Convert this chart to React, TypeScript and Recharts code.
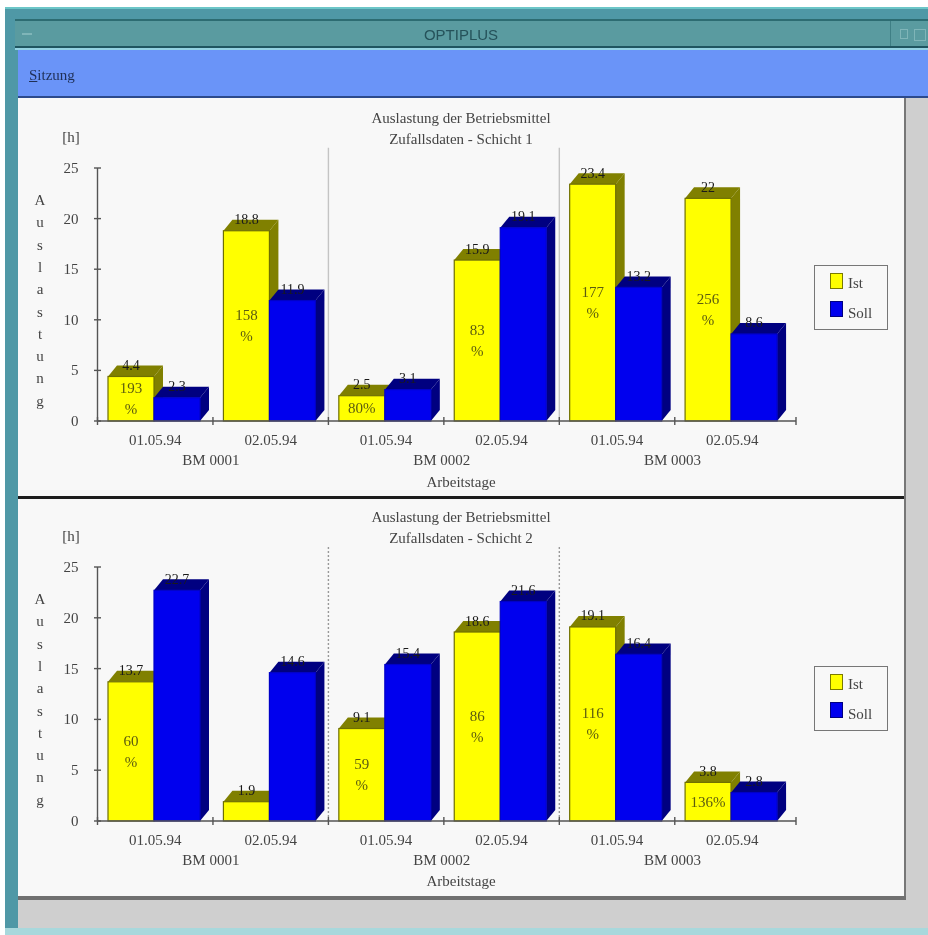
import { BarChart, Bar, XAxis, YAxis, Legend, LabelList, ReferenceLine } from "recharts";

const dates = ["01.05.94", "02.05.94", "01.05.94", "02.05.94", "01.05.94", "02.05.94"];
const machines = ["BM 0001", "BM 0001", "BM 0002", "BM 0002", "BM 0003", "BM 0003"];

const ist1 = [4.4, 18.8, 2.5, 15.9, 23.4, 22];
const soll1 = [2.3, 11.9, 3.1, 19.1, 13.2, 8.6];
const pct1 = ["193 %", "158 %", "80%", "83 %", "177 %", "256 %"];

const ist2 = [13.7, 1.9, 9.1, 18.6, 19.1, 3.8];
const soll2 = [22.7, 14.6, 15.4, 21.6, 16.4, 2.8];
const pct2 = ["60 %", "", "59 %", "86 %", "116 %", "136%"];

const yTicks = [0, 5, 10, 15, 20, 25];
const dayBounds = [0, 1, 2, 3, 4, 5, 6.05];
const machineBounds = [2, 4];
const yTitle = "Auslastung".split("");

const FONT = "'Liberation Serif', serif";
const INK = "#444";
const AXIS = "#555";
const DEPTH_X = 9;
const DEPTH_Y = 11;
const SHIFT = -1.5;

function Box3D(props: any) {
  const { x, y, width, height, fill, dark, edge } = props;
  const l = x + SHIFT;
  const r = l + width;
  const b = y + height;
  return (
    <g>
      <polygon points={`${l},${y} ${l + DEPTH_X},${y - DEPTH_Y} ${r + DEPTH_X},${y - DEPTH_Y} ${r},${y}`} fill={dark} />
      <polygon points={`${r},${y} ${r + DEPTH_X},${y - DEPTH_Y} ${r + DEPTH_X},${b - DEPTH_Y} ${r},${b}`} fill={dark} />
      <rect x={l} y={y} width={width} height={height} fill={fill} stroke={edge} strokeWidth={1.2} />
    </g>
  );
}

function ValueLabel(props: any) {
  const { x, y, width, value } = props;
  return (
    <text x={x + SHIFT + width / 2} y={y - 11} textAnchor="middle" dominantBaseline="central" fontFamily={FONT} fontSize={14} fill="#1a1a1a">
      {value}
    </text>
  );
}

function PctLabel(props: any) {
  const { x, y, width, height, value } = props;
  if (!value) return null;
  const lines = String(value).split(" ");
  const cx = x + SHIFT + width / 2;
  const cy = y + height / 2;
  return (
    <text textAnchor="middle" dominantBaseline="central" fontFamily={FONT} fontSize={15} fill="#5c5c10">
      {lines.map((t, i) => (
        <tspan key={i} x={cx} y={cy + (i - (lines.length - 1) / 2) * 21}>
          {t}
        </tspan>
      ))}
    </text>
  );
}

function CrossTickY(props: any) {
  const { x, y, payload } = props;
  return (
    <g>
      <line x1={x - 3.5} x2={x + 3.5} y1={y} y2={y} stroke={AXIS} strokeWidth={1.4} />
      <text x={x - 19} y={y} textAnchor="end" dominantBaseline="central" fontFamily={FONT} fontSize={15} fill={INK}>
        {payload.value}
      </text>
    </g>
  );
}

function CrossTickX(props: any) {
  const { x, y } = props;
  return <line x1={x} x2={x} y1={y - 4} y2={y + 4} stroke={AXIS} strokeWidth={1.4} />;
}

function DateTick(props: any) {
  const { x, y, payload } = props;
  return (
    <text x={x} y={y + 18} textAnchor="middle" dominantBaseline="central" fontFamily={FONT} fontSize={15} fill={INK}>
      {payload.value}
    </text>
  );
}

function MachineTick(props: any) {
  const { x, y, payload } = props;
  return (
    <text x={x - 2} y={y + 18} textAnchor="middle" dominantBaseline="central" fontFamily={FONT} fontSize={15} fill={INK}>
      {payload.value}
    </text>
  );
}

function LegendBox(props: any) {
  const rows = props.payload || [];
  return (
    <div style={{ width: 74, height: 65, boxSizing: "border-box", border: "1.5px solid #777", position: "relative", background: "#f8f8f8", fontFamily: FONT, fontSize: 15, color: INK }}>
      {rows.map((r: any, i: number) => (
        <div key={r.value}>
          <div style={{ position: "absolute", left: 15, top: 7 + i * 28, width: 13, height: 16, boxSizing: "border-box", background: r.color, border: `1.5px solid ${r.color === "#ffff00" ? "#7a7a00" : "#000080"}` }} />
          <div style={{ position: "absolute", left: 33, top: 8 + i * 30, lineHeight: "18px" }}>{r.value}</div>
        </div>
      ))}
    </div>
  );
}

function Label({ x, y, children }: any) {
  return (
    <text x={x} y={y} textAnchor="middle" dominantBaseline="central" fontFamily={FONT} fontSize={15} fill={INK}>
      {children}
    </text>
  );
}

function ShiftChart({ ist, soll, pct, shift, top, height, dotted, legendTop }: any) {
  const data = dates.map((d, i) => ({ slot: i, date: d, machine: machines[i], ist: ist[i], soll: soll[i], pct: pct[i] }));
  return (
    <div style={{ position: "absolute", left: 18, top, width: 886, height }}>
      <BarChart width={886} height={height} data={data} barSize={46} barGap={0} margin={{ top: 69, right: 34, bottom: 0, left: 0 }}>
        <YAxis width={79.5} domain={[0, 25]} ticks={yTicks} interval={0} tickSize={0} tickMargin={0} stroke={AXIS} strokeWidth={1.4} tick={<CrossTickY />} />
        <XAxis xAxisId="bounds" dataKey="slot" type="number" domain={[0, 6.05]} allowDataOverflow ticks={dayBounds} interval={0} height={1} tickSize={0} tickMargin={0} stroke={AXIS} strokeWidth={1.4} tick={<CrossTickX />} />
        <XAxis xAxisId="date" dataKey="date" height={20} padding={{ left: 0, right: 6 }} axisLine={false} tickLine={false} tickSize={0} tickMargin={0} interval={0} tick={<DateTick />} />
        <XAxis xAxisId="machine" dataKey="machine" allowDuplicatedCategory={false} height={54} padding={{ left: 0, right: 6 }} axisLine={false} tickLine={false} tickSize={0} tickMargin={0} interval={0} tick={<MachineTick />} />
        {machineBounds.map((b) => (
          <ReferenceLine
            key={b}
            xAxisId="bounds"
            segment={[{ x: b, y: 0 }, { x: b, y: 27 }]}
            ifOverflow="visible"
            stroke={dotted ? "#999" : "#c4c4c4"}
            strokeWidth={1.4}
            strokeDasharray={dotted ? "2 2" : undefined}
          />
        ))}
        <Bar xAxisId="date" dataKey="ist" name="Ist" fill="#ffff00" isAnimationActive={false} shape={<Box3D dark="#808000" edge="#6f6f00" />}>
          <LabelList dataKey="ist" content={<ValueLabel />} />
          <LabelList dataKey="pct" content={<PctLabel />} />
        </Bar>
        <Bar xAxisId="date" dataKey="soll" name="Soll" fill="#0000ee" isAnimationActive={false} shape={<Box3D dark="#000080" edge="#0000c8" />}>
          <LabelList dataKey="soll" content={<ValueLabel />} />
        </Bar>
        <Legend layout="vertical" align="right" verticalAlign="top" content={<LegendBox />} wrapperStyle={{ left: 796, top: legendTop, width: 74, height: 65 }} />
        <Label x={443} y={18.5}>Auslastung der Betriebsmittel</Label>
        <Label x={443} y={39.5}>{`Zufallsdaten - Schicht ${shift}`}</Label>
        <Label x={53} y={38}>[h]</Label>
        {yTitle.map((c, i) => (
          <Label key={i} x={22} y={101 + i * 22.3}>{c}</Label>
        ))}
        <Label x={443} y={382.5}>Arbeitstage</Label>
      </BarChart>
    </div>
  );
}

function Strip({ x, y, w, h, c }: any) {
  return <div style={{ position: "absolute", left: x, top: y, width: w, height: h, background: c }} />;
}

export default function App() {
  return (
    <div style={{ position: "absolute", left: 0, top: 0, width: 928, height: 935, background: "#fff", overflow: "hidden", filter: "blur(0.7px)" }}>
      <Strip x={5} y={7} w={923} h={928} c="#4f98a6" />
      <Strip x={5} y={7} w={923} h={2} c="#6cc6c8" />
      <Strip x={15} y={19} w={913} h={2} c="#2d6c72" />
      <Strip x={15} y={21} w={913} h={25} c="#5a9ba0" />
      <Strip x={15} y={46} w={913} h={2} c="#1f5560" />
      <Strip x={15} y={48} w={913} h={2} c="#94d2e2" />
      <Strip x={18} y={50} w={910} h={46} c="#6a94f8" />
      <Strip x={18} y={96} w={910} h={2} c="#2c4a8c" />
      <Strip x={18} y={98} w={910} h={830} c="#cfcfcf" />
      <Strip x={18} y={98} w={886} h={798} c="#f8f8f8" />
      <Strip x={904} y={98} w={2} h={800} c="#777" />
      <Strip x={18} y={896} w={888} h={4} c="#707070" />
      <Strip x={5} y={928} w={923} h={7} c="#a8d8dc" />
      <Strip x={18} y={496} w={886} h={2.5} c="#1c1c1c" />
      <Strip x={890} y={21} w={1} h={25} c="#3f7f85" />
      <div style={{ position: "absolute", left: 900, top: 29, width: 6, height: 8, border: "1px solid #7fb5b8" }} />
      <div style={{ position: "absolute", left: 914, top: 29, width: 10, height: 10, border: "1px solid #7fb5b8" }} />
      <div style={{ position: "absolute", left: 22, top: 33, width: 10, height: 2, background: "#7fb5b8" }} />
      <div style={{ position: "absolute", left: 300, width: 322, top: 25, textAlign: "center", fontFamily: "'Liberation Sans', sans-serif", fontSize: 15, lineHeight: "20px", color: "#25525a" }}>OPTIPLUS</div>
      <div style={{ position: "absolute", left: 29, top: 65, fontFamily: FONT, fontSize: 15, lineHeight: "20px", color: "#1f2f55" }}>
        <span style={{ textDecoration: "underline" }}>S</span>itzung
      </div>
      <ShiftChart ist={ist1} soll={soll1} pct={pct1} shift={1} top={99} height={397} legendTop={166} />
      <ShiftChart ist={ist2} soll={soll2} pct={pct2} shift={2} top={498} height={398} legendTop={168} dotted />
    </div>
  );
}
